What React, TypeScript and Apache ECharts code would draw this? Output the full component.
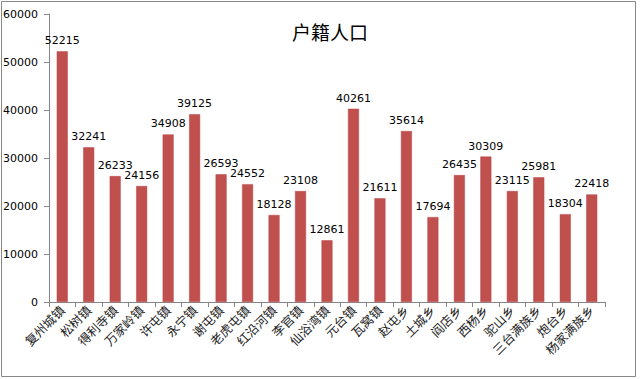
import React, { useEffect, useRef } from "react";
import * as echarts from "echarts";

const categories = ["复州城镇","松树镇","得利寺镇","万家岭镇","许屯镇","永宁镇","谢屯镇","老虎屯镇","红沿河镇","李官镇","仙浴湾镇","元台镇","瓦窝镇","赵屯乡","土城乡","阎店乡","西杨乡","驼山乡","三台满族乡","炮台乡","杨家满族乡"];
const population = [52215,32241,26233,24156,34908,39125,26593,24552,18128,23108,12861,40261,21611,35614,17694,26435,30309,23115,25981,18304,22418];
const yTicks = { min: 0, max: 60000, interval: 10000 };

export default function App() {
  const ref = useRef<HTMLDivElement>(null);
  useEffect(() => {
    const chart = echarts.init(ref.current!, null, { renderer: "svg" });
    chart.setOption({
      animation: false,
      backgroundColor: "#ffffff",
      title: {
        text: "户籍人口",
        left: 325,
        textAlign: "center",
        top: 17,
        textStyle: { fontSize: 19, fontWeight: "normal", color: "#000", fontFamily: "Noto Sans CJK SC" },
      },
      graphic: [{
        type: "rect",
        shape: { x: 1.5, y: 1.5, width: 634, height: 375 },
        style: { fill: "none", stroke: "#888", lineWidth: 1 },
      }],
      grid: { left: 49, right: 35, top: 14, bottom: 77 },
      xAxis: {
        type: "category",
        data: categories,
        axisLine: { lineStyle: { color: "#868686" } },
        axisTick: { show: true, alignWithLabel: false, length: 5, lineStyle: { color: "#868686" } },
        axisLabel: { rotate: 45, interval: 0, fontSize: 12.5, color: "#222", fontFamily: "Noto Sans CJK SC", margin: 6 },
      },
      yAxis: {
        type: "value",
        min: yTicks.min, max: yTicks.max, interval: yTicks.interval,
        axisLine: { show: true, lineStyle: { color: "#868686" } },
        axisTick: { show: true, length: 5, lineStyle: { color: "#868686" } },
        splitLine: { show: false },
        axisLabel: { fontSize: 11, color: "#000", fontFamily: "DejaVu Sans", margin: 11, formatter: (v: number) => String(v) },
      },
      series: [{
        type: "bar",
        data: population,
        barWidth: 11,
        itemStyle: { color: "#C0504D", borderColor: "#B8464A", borderWidth: 0.5 },
        label: { show: true, position: "top", distance: 5, fontSize: 11, color: "#000", fontFamily: "DejaVu Sans" },
      }],
    });
    return () => chart.dispose();
  }, []);
  return <div ref={ref} style={{ width: 640, height: 379, position: "absolute", left: 0, top: 0 }} />;
}
